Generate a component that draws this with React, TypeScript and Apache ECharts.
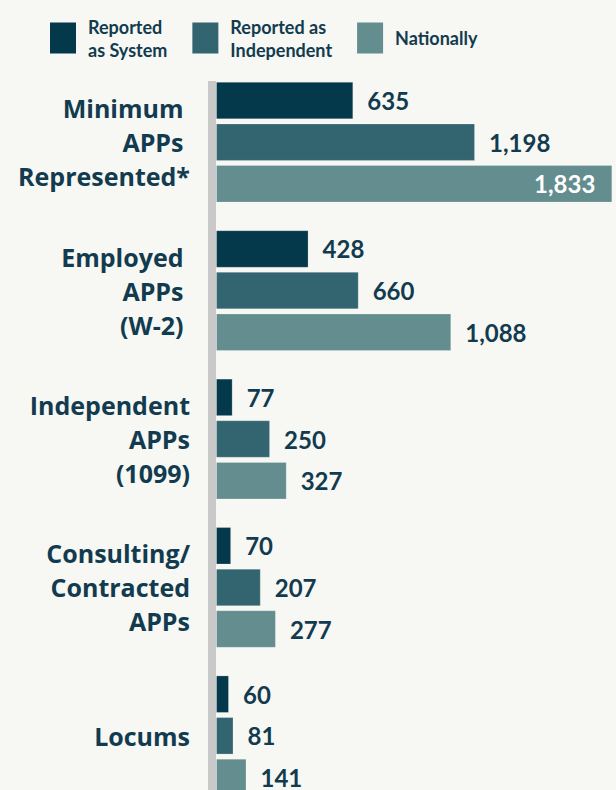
import React, { useEffect, useRef } from "react";
import * as echarts from "echarts";

const categories = [
  "Minimum \nAPPs \nRepresented*",
  "Employed \nAPPs \n(W-2) ",
  "Independent\nAPPs\n(1099)",
  "Consulting/\nContracted\nAPPs",
  "Locums",
];
const seriesNames = ["Reported as System", "Reported as Independent", "Nationally"];
const legendLabels = ["Reported\nas System", "Reported as\nIndependent", "Nationally"];
const systemValues = [635, 428, 77, 70, 60];
const independentValues = [1198, 660, 250, 207, 81];
const nationalValues = [1833, 1088, 327, 277, 141];

const colors = ["#04384b", "#336570", "#638d8e"];
const textColor = "#123b4f";
const bg = "#f7f7f3";

export default function App() {
  const ref = useRef<HTMLDivElement>(null);
  useEffect(() => {
    document.body.style.margin = "0";
    document.body.style.overflow = "hidden";
    document.body.style.background = bg;
    const chart = echarts.init(ref.current!, null, { renderer: "svg" });
    const valueArrays = [systemValues, independentValues, nationalValues];
    const fmt = (v: number) => v.toLocaleString("en-US");
    const series = valueArrays.map((arr, i) => ({
      name: seriesNames[i],
      type: "bar",
      barWidth: 37.5,
      barGap: "11%",
      itemStyle: {
        color: colors[i],
        borderColor: "rgba(255,255,255,0.22)",
        borderWidth: 1,
      },
      label: {
        show: true,
        position: "right",
        distance: 14,
        color: textColor,
        fontFamily: "Lato",
        fontWeight: "bold",
        fontSize: 24,
        formatter: (p: any) => fmt(p.value),
      },
      data: arr.map((v) =>
        v >= 1800
          ? {
              value: v,
              label: { position: "insideRight", distance: 17, color: "#ffffff" },
            }
          : v
      ),
    }));

    chart.setOption({
      animation: false,
      backgroundColor: bg,
      legend: {
        left: 45,
        top: 10,
        icon: "rect",
        itemWidth: 26,
        itemHeight: 31,
        itemGap: 25,
        itemStyle: { borderWidth: 0 },
        selectedMode: false,
        formatter: (name: string) => legendLabels[seriesNames.indexOf(name)],
        textStyle: {
          color: textColor,
          fontFamily: "Lato",
          fontWeight: "bold",
          fontSize: 18,
          lineHeight: 23,
          padding: [0, 0, 0, 7],
        },
        data: seriesNames,
      },
      grid: { left: 216, right: 0, top: 68, height: 742, containLabel: false },
      xAxis: {
        type: "value",
        min: 0,
        max: 1850,
        show: false,
      },
      yAxis: {
        type: "category",
        inverse: true,
        data: categories,
        axisLine: { show: false },
        axisTick: { show: false },
        splitLine: { show: false },
        axisLabel: {
          margin: 26,
          color: textColor,
          fontFamily: "Open Sans",
          fontWeight: "bold",
          fontSize: 25,
          lineHeight: 34,
          align: "right",
        },
      },
      graphic: [
        {
          type: "rect",
          left: 208,
          top: 81,
          shape: { width: 8, height: 740 },
          style: { fill: "#c9c9c9" },
          z: 10,
        },
      ],
      series,
    });
    return () => chart.dispose();
  }, []);
  return <div ref={ref} style={{ width: 616, height: 812, background: bg }} />;
}
